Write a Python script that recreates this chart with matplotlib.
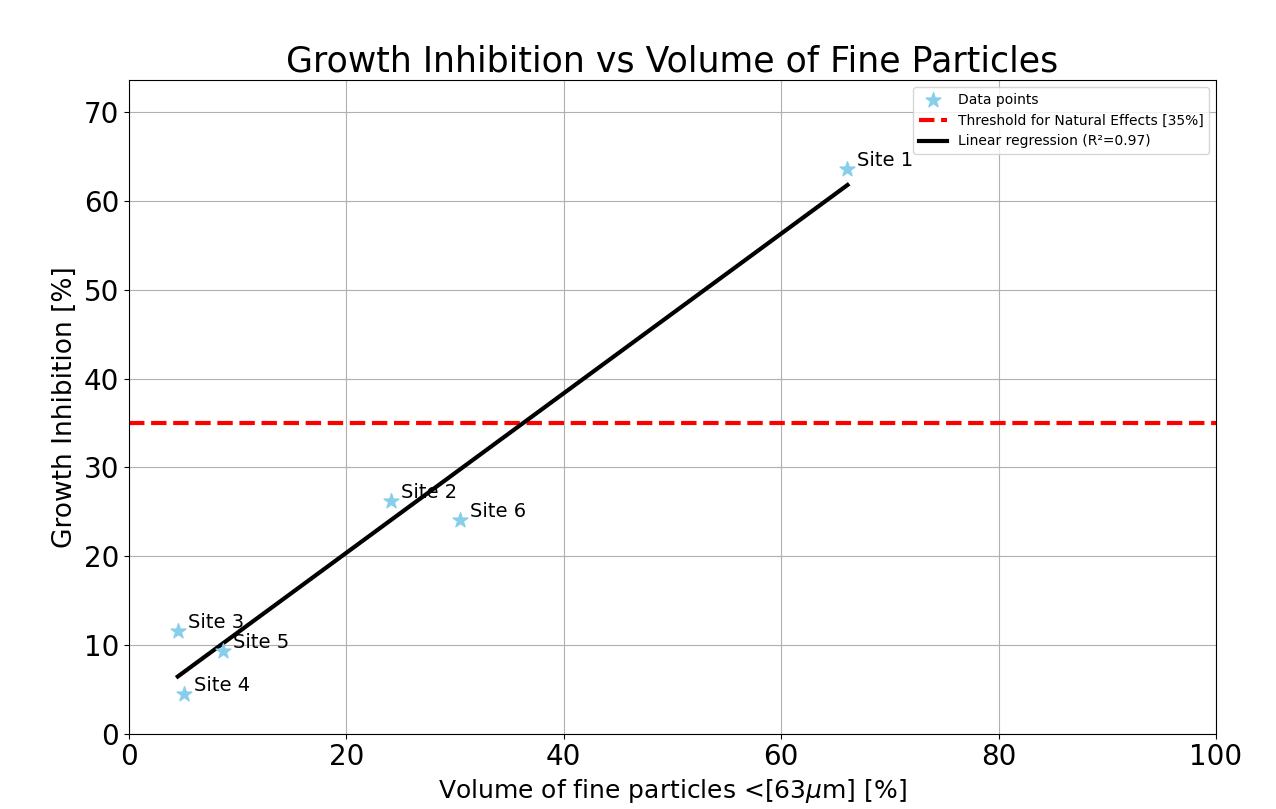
import numpy as np
import matplotlib.pyplot as plt

sites = ['Site 1', 'Site 2', 'Site 3', 'Site 4', 'Site 5', 'Site 6']
fine_volume = [66.1, 24.1, 4.5, 5.1, 8.7, 30.5]
inhibition = [63.6, 26.2, 11.6, 4.5, 9.3, 24.1]
threshold = 35

x = np.array(fine_volume)
y = np.array(inhibition)
slope, intercept = np.polyfit(x, y, 1)
pred = slope * x + intercept
r2 = 1 - np.sum((y - pred) ** 2) / np.sum((y - y.mean()) ** 2)

fig, ax = plt.subplots(figsize=(12.76, 8.09), dpi=100)
fig.subplots_adjust(left=0.101, right=0.953, top=0.901, bottom=0.093)

ax.scatter(x, y, marker='*', s=125, color='skyblue', label='Data points', zorder=3)
for name, xi, yi in zip(sites, x, y):
    ax.annotate(name, (xi, yi), xytext=(7, 2), textcoords='offset points', fontsize=14)

ax.axhline(threshold, color='red', linestyle='--', linewidth=3,
           label='Threshold for Natural Effects [35%]')
xs = np.array([x.min(), x.max()])
ax.plot(xs, slope * xs + intercept, color='black', linewidth=3,
        label=f'Linear regression (R²={r2:.2f})')

ax.set_xlim(0, 100)
ax.set_ylim(0, 73.6)
ax.set_xticks([0, 20, 40, 60, 80, 100])
ax.set_yticks([0, 10, 20, 30, 40, 50, 60, 70])
ax.tick_params(labelsize=20)
ax.set_xlabel('Volume of fine particles <[63$\\mu$m] [%]', fontsize=18)
ax.set_ylabel('Growth Inhibition [%]', fontsize=19)
ax.set_title('Growth Inhibition vs Volume of Fine Particles', fontsize=25)
ax.grid(True)
ax.legend(loc='upper right', fontsize=10)

plt.savefig('out.png', dpi=100)
